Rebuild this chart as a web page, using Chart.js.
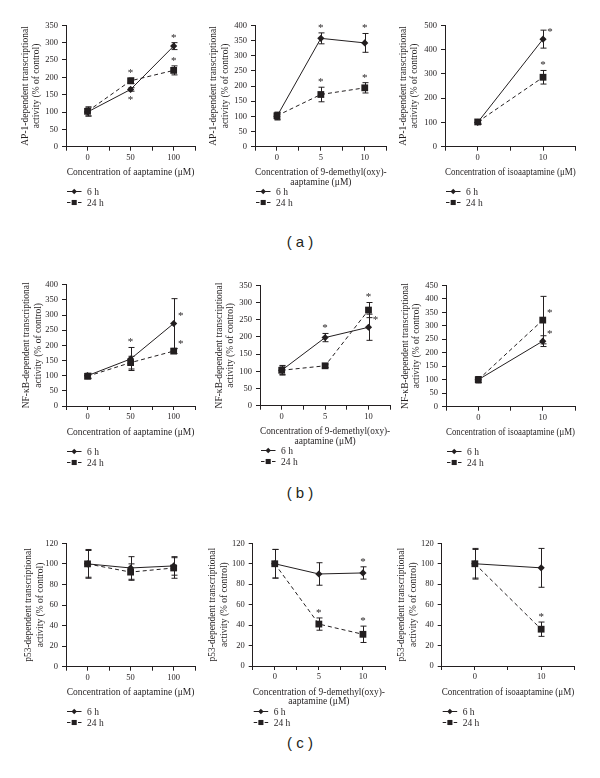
<!DOCTYPE html>
<html>
<head>
<meta charset="utf-8">
<script src="https://cdn.jsdelivr.net/npm/chart.js@4.4.1/dist/chart.umd.min.js"></script>
<style>
body { margin: 0; background: #fff; width: 600px; height: 778px; position: relative; overflow: hidden; }
canvas { position: absolute; }
.lbl { position: absolute; left: 270px; width: 60px; text-align: center; font: 15px 'Liberation Sans', 'DejaVu Sans', sans-serif; color: #231f20; }
</style>
</head>
<body>
<div class="lbl" style="top:233px">( a )</div>
<div class="lbl" style="top:484px">( b )</div>
<div class="lbl" style="top:734px">( c )</div>
<script>
// concentrations (uM)
const concAap = [0, 50, 100];
const concDem = [0, 5, 10];
const concIso = [0, 10];

// (a) AP-1
const ap1Aap6h = [100, 165, 290];
const ap1Aap6hErr = [12, 5, 10];
const ap1Aap24h = [102, 190, 220];
const ap1Aap24hErr = [13, 8, 13];
const ap1Dem6h = [100, 357, 342];
const ap1Dem6hErr = [12, 18, 31];
const ap1Dem24h = [102, 172, 194];
const ap1Dem24hErr = [12, 24, 17];
const ap1Iso6h = [100, 443];
const ap1Iso6hErr = [8, 37];
const ap1Iso24h = [102, 286];
const ap1Iso24hErr = [8, 28];

// (b) NF-kB
const nfAap6h = [100, 155, 272];
const nfAap6hErr = [8, 38, 82];
const nfAap24h = [98, 143, 181];
const nfAap24hErr = [8, 21, 8];
const nfDem6h = [103, 198, 228];
const nfDem6hErr = [12, 12, 38];
const nfDem24h = [103, 116, 278];
const nfDem24hErr = [14, 5, 22];
const nfIso6h = [100, 243];
const nfIso6hErr = [10, 20];
const nfIso24h = [100, 321];
const nfIso24hErr = [12, 88];

// (c) p53
const p53Aap6h = [100, 96, 98];
const p53Aap6hErr = [14, 11, 9];
const p53Aap24h = [100, 92, 96];
const p53Aap24hErr = [13, 8, 10];
const p53Dem6h = [100, 90, 91];
const p53Dem6hErr = [14, 11, 6];
const p53Dem24h = [100, 41, 31];
const p53Dem24hErr = [14, 6, 8];
const p53Iso6h = [100, 96];
const p53Iso6hErr = [15, 19];
const p53Iso24h = [100, 36];
const p53Iso24hErr = [14, 7];

// significance (*)
const sigNone2 = [0, 0];
const sigNone3 = [0, 0, 0];
const sigLast2 = [0, 1];
const sigBoth3 = [0, 1, 1];
const sigLast3 = [0, 0, 1];

const seriesLabels = ['6 h', '24 h'];
const xTitleAap = 'Concentration of aaptamine (\u03bcM)';
const xTitleDem = ['Concentration of 9-demethyl(oxy)-', 'aaptamine (\u03bcM)'];
const xTitleIso = 'Concentration of isoaaptamine (\u03bcM)';
const yTitle2 = 'activity (% of control)';

const FONT = "'Liberation Serif', 'DejaVu Serif', serif";
const INK = '#231f20';

const panels = [
  {left: 0, top: 0, w: 200, plot: [66, 197, 25.3, 146.7], yPad: 19.2, yMax: 350, yStep: 50,
   x: concAap, xr: [-25, 125, 25, 50], yTitle: ['AP-1-dependent transcriptional', yTitle2], xTitle: xTitleAap,
   s6: [ap1Aap6h, ap1Aap6hErr, sigBoth3, ['', 'down', 'up']], s24: [ap1Aap24h, ap1Aap24hErr, sigBoth3, ['', 'up', 'up']]},
  {left: 200, top: 0, w: 195, plot: [255, 386.7, 25.3, 146.7], yPad: 7.5, yMax: 400, yStep: 50,
   x: concDem, xr: [-2.5, 12.5, 2.5, 5], yTitle: ['AP-1-dependent transcriptional', yTitle2], xTitle: xTitleDem,
   s6: [ap1Dem6h, ap1Dem6hErr, sigBoth3, ['', 'up', 'up']], s24: [ap1Dem24h, ap1Dem24hErr, sigBoth3, ['', 'up', 'up']]},
  {left: 390, top: 0, w: 210, plot: [445, 575.7, 25.3, 146.7], yPad: 7.2, yMax: 500, yStep: 100,
   x: concIso, xr: [-5, 15, 5, 10], yTitle: ['AP-1-dependent transcriptional', yTitle2], xTitle: xTitleIso,
   s6: [ap1Iso6h, ap1Iso6hErr, sigLast2, ['', 'right']], s24: [ap1Iso24h, ap1Iso24hErr, sigLast2, ['', 'up']]},

  {left: 0, top: 255, w: 200, plot: [66, 196.7, 284.7, 406], yPad: 20.8, yMax: 400, yStep: 50,
   x: concAap, xr: [-25, 125, 25, 50], yTitle: ['NF-\u03baB-dependent transcriptional', yTitle2], xTitle: xTitleAap,
   s6: [nfAap6h, nfAap6hErr, sigBoth3, ['', 'up', 'right']], s24: [nfAap24h, nfAap24hErr, sigLast3, ['', '', 'right']]},
  {left: 200, top: 255, w: 195, plot: [260, 390.7, 285.3, 405.7], yPad: 13.2, yMax: 350, yStep: 50,
   x: concDem, xr: [-2.5, 12.5, 2.5, 5], yTitle: ['NF-\u03baB-dependent transcriptional', yTitle2], xTitle: xTitleDem,
   s6: [nfDem6h, nfDem6hErr, sigBoth3, ['', 'up', 'right']], s24: [nfDem24h, nfDem24hErr, sigLast3, ['', '', 'up']]},
  {left: 390, top: 255, w: 210, plot: [446, 575, 285.3, 406.7], yPad: 9.2, yMax: 450, yStep: 50,
   x: concIso, xr: [-5, 15, 5, 10], yTitle: ['NF-\u03baB-dependent transcriptional', yTitle2], xTitle: xTitleIso,
   s6: [nfIso6h, nfIso6hErr, sigLast2, ['', 'right']], s24: [nfIso24h, nfIso24hErr, sigLast2, ['', 'right']]},

  {left: 0, top: 505, w: 200, plot: [66, 199, 543.3, 666.7], yPad: 22.5, yMax: 120, yStep: 20,
   x: concAap, xr: [-25, 125, 25, 50], yTitle: ['p53-dependent transcriptional', yTitle2], xTitle: xTitleAap,
   s6: [p53Aap6h, p53Aap6hErr, sigNone3, ['', '', '']], s24: [p53Aap24h, p53Aap24hErr, sigNone3, ['', '', '']]},
  {left: 200, top: 505, w: 195, plot: [252.7, 385, 543.3, 666], yPad: 6.6, yMax: 120, yStep: 20,
   x: concDem, xr: [-2.5, 12.5, 2.5, 5], yTitle: ['p53-dependent transcriptional', yTitle2], xTitle: xTitleDem,
   s6: [p53Dem6h, p53Dem6hErr, sigLast3, ['', '', 'up']], s24: [p53Dem24h, p53Dem24hErr, sigBoth3, ['', 'up', 'up']]},
  {left: 390, top: 505, w: 210, plot: [441.7, 574.3, 543.3, 666], yPad: 5.9, yMax: 120, yStep: 20,
   x: concIso, xr: [-5, 15, 5, 10], yTitle: ['p53-dependent transcriptional', yTitle2], xTitle: xTitleIso,
   s6: [p53Iso6h, p53Iso6hErr, sigNone2, ['', '']], s24: [p53Iso24h, p53Iso24hErr, sigLast2, ['', 'up']]}
];

// error bars + asterisks
const errorBars = {
  id: 'errorBars',
  afterDatasetsDraw(chart) {
    const ctx = chart.ctx;
    const ys = chart.scales.y;
    ctx.save();
    ctx.strokeStyle = INK;
    ctx.fillStyle = INK;
    ctx.lineWidth = 1;
    ctx.font = '11px ' + FONT;
    ctx.textAlign = 'center';
    ctx.textBaseline = 'middle';
    chart.data.datasets.forEach((ds, di) => {
      const meta = chart.getDatasetMeta(di);
      ds.err.forEach((e, i) => {
        const pt = meta.data[i];
        const v = ds.data[i].y;
        const x = Math.round(pt.x) + 0.5;
        const yt = ys.getPixelForValue(v + e);
        const yb = ys.getPixelForValue(v - e);
        ctx.beginPath();
        ctx.moveTo(x, yt); ctx.lineTo(x, yb);
        ctx.moveTo(x - 3, yt); ctx.lineTo(x + 3, yt);
        ctx.moveTo(x - 3, yb); ctx.lineTo(x + 3, yb);
        ctx.stroke();
        if (ds.sig[i]) {
          let sx = pt.x, sy = yt - 7;
          if (ds.place[i] == 'down') sy = yb + 7;
          if (ds.place[i] == 'right') { sx = pt.x + 7; sy = pt.y - 9; }
          ctx.fillText('*', sx, sy + 2);
        }
      });
    });
    ctx.restore();
  }
};

// legend stacked under the x title
const stackLegend = {
  id: 'stackLegend',
  afterDraw(chart) {
    const ctx = chart.ctx;
    const a = chart.chartArea;
    chart.data.datasets.forEach((ds, i) => {
      const y = Math.round(a.bottom + 44.5 + i * 11) + 0.5;
      const x0 = a.left + 1;
      ctx.save();
      ctx.strokeStyle = INK;
      ctx.fillStyle = INK;
      ctx.lineWidth = 1;
      ctx.setLineDash(ds.borderDash ? [3.5, 2] : []);
      ctx.beginPath();
      ctx.moveTo(x0, y); ctx.lineTo(x0 + 14.5, y);
      ctx.stroke();
      ctx.setLineDash([]);
      Chart.helpers.drawPoint(ctx, {pointStyle: ds.pointStyle, radius: ds.pointRadius * 0.75, borderWidth: 0}, x0 + 7.2, y);
      ctx.font = '9.5px ' + FONT;
      ctx.textBaseline = 'middle';
      ctx.fillText(ds.label, x0 + 20, y + 0.5);
      ctx.restore();
    });
  }
};

function pts(xs, ys){
  return xs.map((x, i) => ({x: x, y: ys[i]}));
}

function makePanel(p){
  const H = 225;
  const c = document.createElement('canvas');
  c.width = p.w; c.height = H;
  c.style.left = p.left + 'px';
  c.style.top = p.top + 'px';
  document.body.appendChild(c);

  const xH = 50;
  const nX = Array.isArray(p.xTitle) ? p.xTitle.length : 1;
  const xLH = 9.5;
  const xTitleBottom = xH - 26 - xLH / 2 - xLH * (nX - 1);

  new Chart(c.getContext('2d'), {
    type: 'line',
    data: {
      datasets: [
        {label: seriesLabels[0], data: pts(p.x, p.s6[0]), err: p.s6[1], sig: p.s6[2], place: p.s6[3],
         borderColor: INK, borderWidth: 1, backgroundColor: INK, pointStyle: 'rectRot', pointRadius: 3.6,
         pointBackgroundColor: INK, pointBorderWidth: 0, tension: 0, fill: false},
        {label: seriesLabels[1], data: pts(p.x, p.s24[0]), err: p.s24[1], sig: p.s24[2], place: p.s24[3],
         borderColor: INK, borderWidth: 1, borderDash: [4, 3], backgroundColor: INK, pointStyle: 'rect', pointRadius: 4.8,
         pointBackgroundColor: INK, pointBorderWidth: 0, tension: 0, fill: false}
      ]
    },
    options: {
      responsive: false,
      animation: false,
      events: [],
      clip: false,
      layout: {padding: {left: 0, top: p.plot[2] - p.top, right: p.left + p.w - p.plot[1], bottom: H - (p.plot[3] - p.top) - xH}},
      plugins: {legend: {display: false}, tooltip: {enabled: false}},
      scales: {
        x: {
          type: 'linear', min: p.xr[0], max: p.xr[1],
          ticks: {stepSize: p.xr[2], autoSkip: false, maxRotation: 0, padding: 2, color: INK,
                  font: {family: FONT, size: 8.5},
                  callback: v => Math.abs(v % p.xr[3]) < 1e-6 ? String(v) : ''},
          grid: {drawOnChartArea: false, tickLength: 4, color: INK},
          border: {color: INK},
          title: {display: true, text: p.xTitle, color: INK, font: {family: FONT, size: 9.5, lineHeight: 1},
                  padding: {top: 0, bottom: xTitleBottom}},
          afterFit: s => { s.height = xH; }
        },
        y: {
          min: 0, max: p.yMax,
          ticks: {stepSize: p.yStep, padding: 4, color: INK, font: {family: FONT, size: 8.5}},
          grid: {drawOnChartArea: false, tickLength: 4, color: INK},
          border: {color: INK},
          title: {display: true, text: p.yTitle, color: INK, font: {family: FONT, size: 9.5, lineHeight: 1.23},
                  padding: {top: p.yPad, bottom: 0}},
          afterFit: s => { s.width = p.plot[0] - p.left; }
        }
      }
    },
    plugins: [errorBars, stackLegend]
  });
}

panels.forEach(makePanel);
</script>
</body>
</html>
